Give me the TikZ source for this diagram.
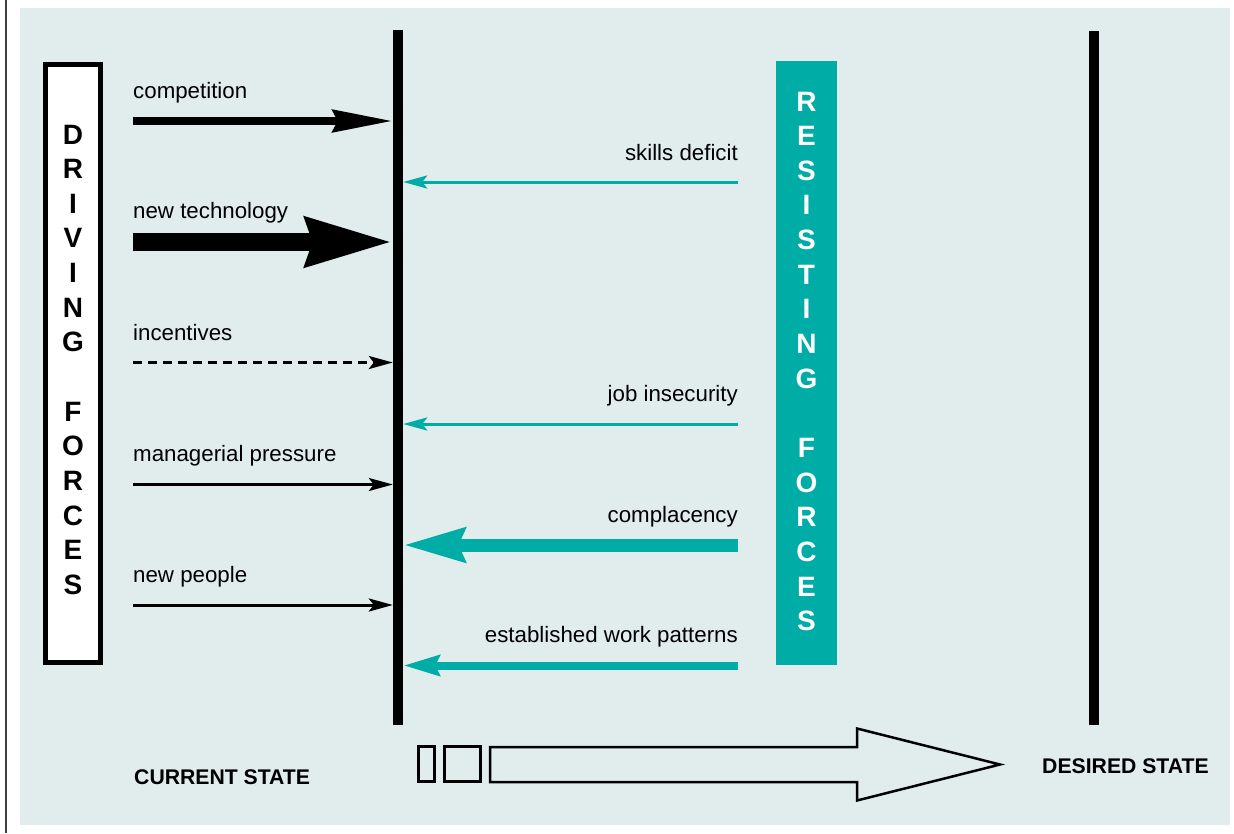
\documentclass[tikz,border=0pt]{standalone}
\usepackage{fontspec}
\setmainfont{Liberation Sans}
\usetikzlibrary{arrows.meta}
\definecolor{panelbg}{RGB}{225,237,237}
\definecolor{rteal}{RGB}{0,173,166}
\begin{document}
\begin{tikzpicture}[x=1pt,y=-1pt,
  lbl/.style={font=\fontsize{22.3}{27}\selectfont, inner sep=0},
  biglbl/.style={font=\fontsize{21.2}{24}\selectfont\bfseries, inner sep=0, anchor=base west},
  vlet/.style={font=\fontsize{28}{34}\selectfont\bfseries, inner sep=0, anchor=base},
  bar/.style={fill=black, inner sep=0, minimum width=10pt},
  thinarr/.style={line width=3pt, -{Stealth[length=24pt,width=13pt,inset=5pt]}},
  comparr/.style={line width=8pt, -{Stealth[length=60pt,width=22pt,inset=5pt]}},
  techarr/.style={line width=18pt, -{Stealth[length=86pt,width=47pt,inset=6pt]}},
  complarr/.style={line width=13pt, -{Stealth[length=61pt,width=33pt,inset=6pt]}},
  estarr/.style={line width=8pt, -{Stealth[length=36pt,width=20pt,inset=4pt]}},
  outl/.style={draw=black, line width=2.5pt, line join=miter}
]
\useasboundingbox (0,0) rectangle (1234,833);
\fill[white] (0,0) rectangle (1234,833);
\fill[panelbg] (20,8) rectangle (1230,825);
\draw[line width=1.5pt, black!75] (6,0) -- (6,833);

% boxes
\node[draw, line width=5pt, fill=white, minimum width=55pt, minimum height=598pt, inner sep=0] (drv) at (73,363.5) {};
\node[fill=rteal, minimum width=61pt, minimum height=604pt, inner sep=0] (res) at (806.5,363) {};

% vertical lines
\node[bar, minimum height=695pt] (cur) at (398,377.5) {};
\node[bar, minimum height=694pt] (des) at (1094,378) {};

% vertical letters
\foreach \l [count=\i from 0] in {D,R,I,V,I,N,G}
  \node[vlet] (da\i) at (73,{144+34.65*\i}) {\l};
\foreach \l [count=\i from 8] in {F,O,R,C,E,S}
  \node[vlet] (db\i) at (73,{144+34.65*\i}) {\l};
\foreach \l [count=\i from 0] in {R,E,S,I,S,T,I,N,G}
  \node[vlet, text=white] (ra\i) at (806.5,{111+34.65*\i}) {\l};
\foreach \l [count=\i from 10] in {F,O,R,C,E,S}
  \node[vlet, text=white] (rb\i) at (806.5,{111+34.65*\i}) {\l};

% driving forces
\coordinate (s1) at (133,121);
\coordinate (s2) at (133,242);
\coordinate (s3) at (133,362.5);
\coordinate (s4) at (133,484.5);
\coordinate (s5) at (133,605);
\node[lbl, anchor=base west] (l1) at (133,98) {competition};
\node[lbl, anchor=base west] (l2) at (133,218) {new technology};
\node[lbl, anchor=base west] (l3) at (133,340) {incentives};
\node[lbl, anchor=base west] (l4) at (133,461.5) {managerial pressure};
\node[lbl, anchor=base west] (l5) at (133,582.5) {new people};
\draw[comparr] (s1) -- (s1 -| cur.west);
\draw[techarr] (s2) -- (s2 -| cur.west);
\draw[thinarr, dash pattern=on 9pt off 6pt] (s3) -- (s3 -| cur.west);
\draw[thinarr] (s4) -- (s4 -| cur.west);
\draw[thinarr] (s5) -- (s5 -| cur.west);

% resisting forces
\coordinate (t1) at (738,182);
\coordinate (t2) at (738,424);
\coordinate (t3) at (738,545);
\coordinate (t4) at (738,665.5);
\node[lbl, anchor=base east] (r1) at (738,160) {skills deficit};
\node[lbl, anchor=base east] (r2) at (738,401.5) {job insecurity};
\node[lbl, anchor=base east] (r3) at (738,522) {complacency};
\node[lbl, anchor=base east] (r4) at (738,642) {established work patterns};
\draw[thinarr, draw=rteal, fill=rteal] (t1) -- (t1 -| cur.east);
\draw[thinarr, draw=rteal, fill=rteal] (t2) -- (t2 -| cur.east);
\draw[complarr, draw=rteal, fill=rteal] (t3) -- (t3 -| cur.east);
\draw[estarr, draw=rteal, fill=rteal] (t4) -- (t4 -| cur.east);

% bottom
\node[biglbl] (cs) at (134,784) {CURRENT STATE};
\node[biglbl] (ds) at (1042,773.5) {DESIRED STATE};
\draw[outl] (418.5,746.5) rectangle (434.5,781.5);
\draw[outl] (444.5,746.5) rectangle (480.5,781.5);
\draw[outl] (490,747) -- (857,747) -- (857,728.5) -- (1000,764.5) -- (857,800.5) -- (857,782) -- (490,782) -- cycle;
\end{tikzpicture}
\end{document}
